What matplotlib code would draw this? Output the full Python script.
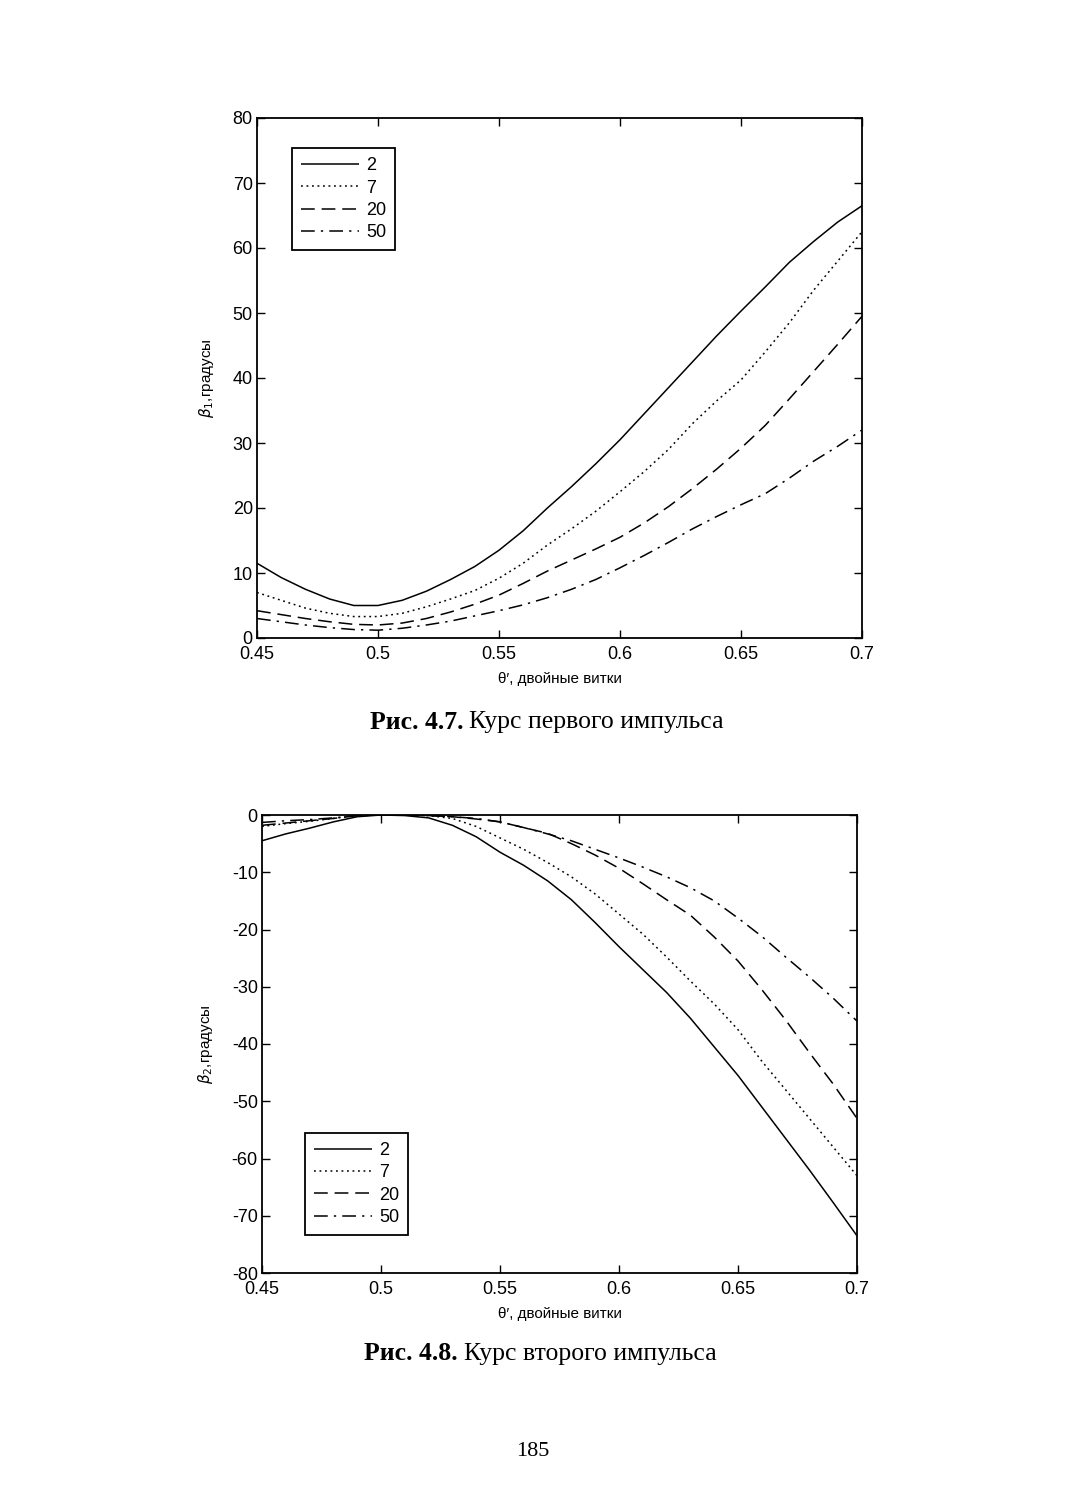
import matplotlib
matplotlib.use("Agg")
import matplotlib.pyplot as plt
from matplotlib.ticker import FuncFormatter

# -- Data --------------------------------------------------------------------
theta = [0.45, 0.46, 0.47, 0.48, 0.49, 0.50, 0.51, 0.52, 0.53, 0.54, 0.55,
         0.56, 0.57, 0.58, 0.59, 0.60, 0.61, 0.62, 0.63, 0.64, 0.65,
         0.66, 0.67, 0.68, 0.69, 0.70]
labels = ["2", "7", "20", "50"]

# Fig 4.7: heading of the first impulse, degrees
beta1_2 = [11.5, 9.3, 7.5, 6.0, 5.0, 5.0, 5.8, 7.2, 9.0, 11.0, 13.5,
           16.5, 20.0, 23.3, 26.8, 30.5, 34.5, 38.5, 42.5, 46.5, 50.3,
           54.0, 57.8, 61.0, 64.0, 66.5]
beta1_7 = [7.0, 5.8, 4.6, 3.8, 3.3, 3.3, 3.8, 4.8, 6.0, 7.3, 9.2,
           11.5, 14.3, 16.8, 19.5, 22.5, 25.6, 29.0, 33.0, 36.5, 39.7,
           44.0, 48.5, 53.5, 58.0, 62.5]
beta1_20 = [4.2, 3.6, 3.0, 2.5, 2.1, 2.0, 2.3, 3.0, 4.0, 5.2, 6.6,
            8.4, 10.3, 12.0, 13.7, 15.5, 17.7, 20.2, 23.0, 26.0, 29.2,
            32.7, 36.8, 41.0, 45.2, 49.5]
beta1_50 = [3.0, 2.5, 2.0, 1.6, 1.3, 1.2, 1.5, 2.0, 2.6, 3.4, 4.2,
            5.1, 6.2, 7.5, 9.0, 10.8, 12.7, 14.7, 16.8, 18.7, 20.5,
            22.2, 24.6, 27.2, 29.5, 32.0]

# Fig 4.8: heading of the second impulse, degrees
beta2_2 = [-4.5, -3.3, -2.3, -1.2, -0.3, 0.0, -0.1, -0.5, -1.8, -3.8, -6.5,
           -8.8, -11.5, -14.8, -18.8, -23.0, -27.0, -31.0, -35.5, -40.5, -45.5,
           -51.0, -56.5, -62.0, -67.7, -73.5]
beta2_7 = [-2.0, -1.5, -1.1, -0.6, -0.1, 0.0, 0.0, -0.1, -0.6, -2.0, -4.0,
           -6.0, -8.3, -10.8, -13.8, -17.3, -20.8, -24.8, -29.0, -33.0, -37.5,
           -43.0, -48.0, -53.0, -58.0, -63.0]
beta2_20 = [-1.8, -1.4, -1.0, -0.6, -0.1, 0.0, 0.0, -0.1, -0.3, -0.7, -1.2,
            -2.2, -3.2, -5.0, -7.0, -9.3, -12.0, -14.8, -17.5, -21.3, -25.5,
            -30.5, -35.8, -41.5, -47.0, -53.0]
beta2_50 = [-1.3, -1.0, -0.8, -0.5, -0.1, 0.0, 0.0, -0.1, -0.3, -0.6, -1.2,
            -2.2, -3.3, -4.5, -6.0, -7.5, -9.1, -10.8, -12.7, -15.0, -18.0,
            -21.2, -24.8, -28.3, -32.0, -36.0]

# MATLAB-ish line styles: solid, dotted, dashed, dash-dot
STYLES = [(0, ()), (0, (1.2, 2.4)), (0, (9, 4.5)), (0, (9, 4, 1.5, 4))]
SANS = ["Liberation Sans Narrow", "Liberation Sans", "DejaVu Sans"]
SERIF = ["Liberation Serif", "DejaVu Serif"]

plt.rcParams["font.family"] = SANS
plt.rcParams["mathtext.fontset"] = "dejavusans"
plt.rcParams["axes.unicode_minus"] = False

fig = plt.figure(figsize=(10.67, 15), dpi=100, facecolor="white")


def style_axes(ax, ylim, yticks, ylabel):
    ax.set_xlim(0.45, 0.7)
    ax.set_ylim(*ylim)
    ax.set_xticks([0.45, 0.5, 0.55, 0.6, 0.65, 0.7])
    ax.set_yticks(yticks)
    ax.xaxis.set_major_formatter(FuncFormatter(lambda v, _: f"{v:g}"))
    ax.tick_params(direction="in", top=True, right=True, length=6,
                   width=1, labelsize=13, colors="black", pad=3)
    ax.tick_params(axis="x", pad=6)
    for s in ax.spines.values():
        s.set_linewidth(1.3)
        s.set_color("black")
    ax.set_ylabel(ylabel, fontsize=11, labelpad=12)
    ax.set_xlabel("θ′, двойные витки", fontsize=11, labelpad=6)


def draw(ax, series, legend_anchor):
    for ys, ls, lab in zip(series, STYLES, labels):
        ax.plot(theta, ys, color="black", linestyle=ls, linewidth=1.1, label=lab)
    leg = ax.legend(loc="upper left", bbox_to_anchor=legend_anchor,
                    fontsize=13, frameon=True, fancybox=False, framealpha=1,
                    edgecolor="black", handlelength=3.2, handletextpad=0.4,
                    labelspacing=0.3, borderpad=0.5, borderaxespad=0)
    leg.get_frame().set_linewidth(1.3)


# -- Fig 4.7 ------------------------------------------------------------------
ax1 = fig.add_axes([257 / 1067, 1 - 638 / 1500, 605 / 1067, 520 / 1500])
draw(ax1, [beta1_2, beta1_7, beta1_20, beta1_50], (0.058, 0.942))
style_axes(ax1, (0, 80), range(0, 81, 10), r"$\beta_1$,градусы")

# -- Fig 4.8 ------------------------------------------------------------------
ax2 = fig.add_axes([262 / 1067, 1 - 1273 / 1500, 595 / 1067, 458 / 1500])
draw(ax2, [beta2_2, beta2_7, beta2_20, beta2_50], (0.072, 0.306))
style_axes(ax2, (-80, 0), range(-80, 1, 10), r"$\beta_2$,градусы")

# -- Captions and page number ---------------------------------------------------
def caption(y_px, split_px, bold, rest):
    fig.text(split_px / 1067, 1 - y_px / 1500, bold, ha="right", va="center",
             family=SERIF, fontsize=18.5, fontweight="bold")
    fig.text((split_px + 6) / 1067, 1 - y_px / 1500, rest, ha="left",
             va="center", family=SERIF, fontsize=18.5)


caption(722, 463, "Рис. 4.7.", "Курс первого импульса")
caption(1354, 458, "Рис. 4.8.", "Курс второго импульса")
fig.text(533 / 1067, 1 - 1452 / 1500, "185", ha="center", va="center",
         family=SERIF, fontsize=16)

fig.savefig("out.png", dpi=100, facecolor="white")
